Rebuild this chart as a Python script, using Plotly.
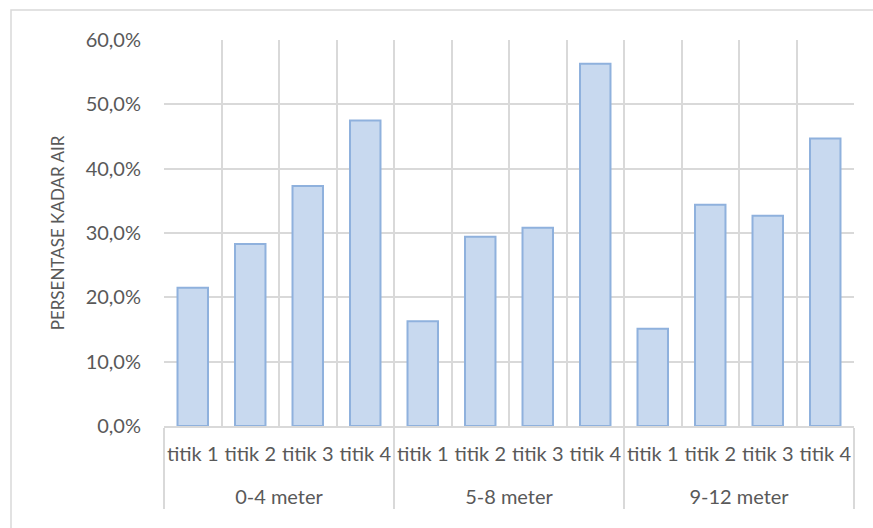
import plotly.graph_objects as go

# Moisture content per sampling point, grouped by depth
depths = ["0-4 meter", "5-8 meter", "9-12 meter"]
points = ["titik 1", "titik 2", "titik 3", "titik 4"]
kadar_air = {
    "0-4 meter": [21.5, 28.3, 37.3, 47.5],
    "5-8 meter": [16.3, 29.4, 30.8, 56.3],
    "9-12 meter": [15.1, 34.4, 32.7, 44.7],
}
y_ticks = [0, 10, 20, 30, 40, 50, 60]
y_tick_text = ["0,0%", "10,0%", "20,0%", "30,0%", "40,0%", "50,0%", "60,0%"]

# a blank second line under each point label spaces out the depth row
x_outer = [d for d in depths for _ in points]
x_inner = [p + "<br> " for _ in depths for p in points]
y_vals = [v for d in depths for v in kadar_air[d]]

FONT = "Lato"
GRAY = "#595959"
GRID = "#d9d9d9"

fig = go.Figure(
    go.Bar(
        x=[x_outer, x_inner],
        y=y_vals,
        marker=dict(color="#c8d9ef", line=dict(color="#8fb1dd", width=2)),
        hoverinfo="skip",
    )
)

fig.update_layout(
    width=873,
    height=528,
    margin=dict(l=164, r=19, t=40, b=102),
    paper_bgcolor="white",
    plot_bgcolor="white",
    bargap=0.47,
    showlegend=False,
    font=dict(family=FONT, color=GRAY),
    shapes=[
        dict(
            type="rect", xref="paper", yref="paper",
            x0=(11 - 164) / 690, x1=1.2, y0=-0.5, y1=(426 - 10) / 386,
            line=dict(color=GRID, width=1.5), fillcolor="rgba(0,0,0,0)",
            layer="below",
        )
    ],
)

fig.update_xaxes(
    type="multicategory",
    tickson="boundaries",
    tickangle=0,
    automargin=False,
    ticklabelstandoff=9,
    showgrid=True,
    gridcolor=GRID,
    gridwidth=1.5,
    showline=True,
    linecolor=GRID,
    linewidth=1.5,
    ticks="",
    showdividers=True,
    dividercolor=GRID,
    dividerwidth=1.5,
    tickfont=dict(family=FONT, size=20, color=GRAY),
    mirror=False,
)

fig.update_yaxes(
    range=[0, 60],
    tickvals=y_ticks,
    ticktext=y_tick_text,
    automargin=False,
    showgrid=True,
    gridcolor=GRID,
    gridwidth=1.5,
    zeroline=False,
    showline=False,
    ticks="",
    ticklabelstandoff=22,
    tickfont=dict(family=FONT, size=20, color=GRAY),
    title=dict(text="PERSENTASE KADAR AIR", font=dict(family=FONT, size=17, color=GRAY), standoff=16),
)

fig.write_html("out.html")
